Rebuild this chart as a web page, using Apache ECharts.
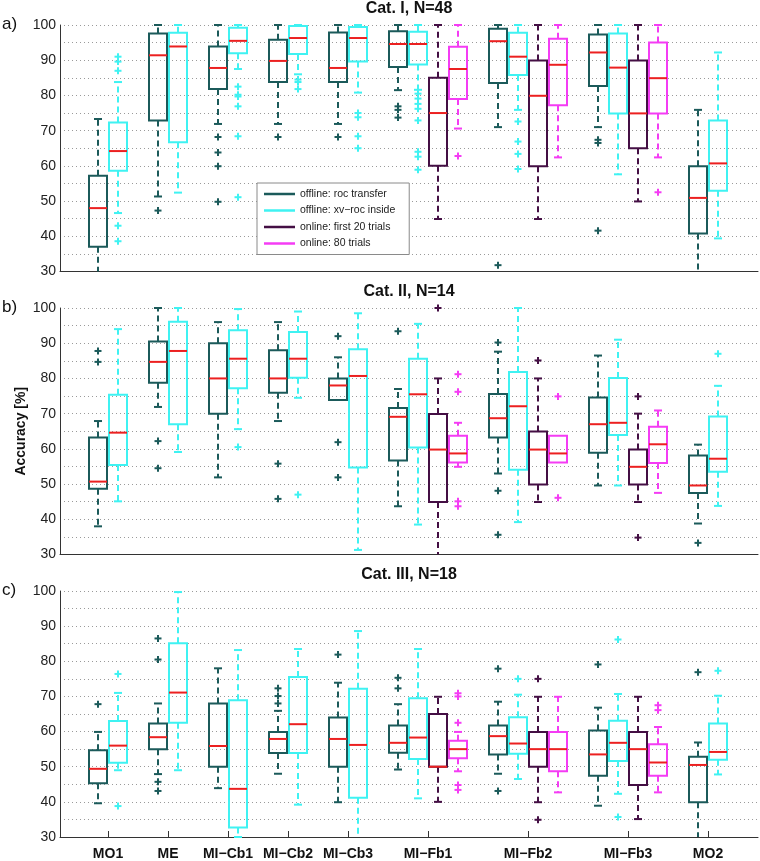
<!DOCTYPE html>
<html><head><meta charset="utf-8">
<script src="https://cdn.jsdelivr.net/npm/echarts@6/dist/echarts.min.js"></script>
<style>html,body{margin:0;padding:0;background:#fff}#chart{width:760px;height:861px}</style>
</head><body><div id="chart"></div>
<script>
// ---------------- DATA ----------------
const categories = ['MO1', 'ME', 'MI\u2212Cb1', 'MI\u2212Cb2', 'MI\u2212Cb3', 'MI\u2212Fb1', 'MI\u2212Fb2', 'MI\u2212Fb3', 'MO2'];
const seriesNames = ['offline: roc transfer', 'offline: xv\u2212roc inside', 'online: first 20 trials', 'online: 80 trials'];
const panelTitles = ['Cat. I, N=48', 'Cat. II, N=14', 'Cat. III, N=18'];
const panelLetters = ['a)', 'b)', 'c)'];
const yTickValues = [30, 40, 50, 60, 70, 80, 90, 100];
const yAxisName = 'Accuracy [%]';

// box stats: [lower whisker, q1, median, q3, upper whisker]
// ---- Cat. I ----
const catI_rocTransfer = [
  [25, 37, 48, 57.2, 73.3], [51.3, 72.9, 91.4, 97.6, 100], [71.9, 81.8, 87.8, 93.9, 100],
  [71.9, 83.8, 89.8, 95.8, 100], [71.9, 83.8, 87.8, 97.9, 100], [81.5, 88.1, 94.6, 98.2, 100],
  [71.0, 83.5, 95.4, 98.9, 100], [71.0, 82.7, 92.2, 97.3, 100], [25, 40.8, 50.9, 59.9, 75.9]];
const catI_rocTransfer_out = [[], [47.3], [68.2, 63.8, 59.9, 49.8], [68.2], [68.2], [76.9, 75.9, 73.7], [31.8], [67.4, 66.5, 41.6], []];
const catI_xvRocInside = [
  [46.6, 58.6, 64.2, 72.3, 83.8], [52.4, 66.7, 93.9, 97.8, 100], [87.5, 92.0, 95.5, 99.2, 100],
  [86.0, 91.8, 96.3, 99.7, 100], [80.8, 89.6, 96.3, 99.4, 100], [81.6, 88.8, 94.6, 98.1, 100],
  [75.9, 85.8, 91.0, 97.8, 100], [57.6, 74.9, 87.9, 97.6, 100], [39.4, 52.9, 60.7, 72.9, 92.2]];
const catI_xvRocInside_out = [[91, 89.6, 87, 43, 38.6], [], [82.5, 80.2, 79.7, 76.9, 68.4, 51.1], [84.5, 83.8, 81.8], [75.0, 73.8, 68.4, 65.0],
  [80.5, 79.1, 77.6, 76.2, 72.9, 64.0, 62.6, 58.9], [72.6, 66.9, 63.4, 59.1], [], []];
const catI_first20 = [null, null, null, null, null, [44.9, 60.0, 75.0, 85.0, 100], [44.9, 59.9, 79.9, 89.9, 100], [49.9, 65.0, 74.9, 89.9, 100], null];
const catI_first20_out = [[], [], [], [], [], [], [], [], []];
const catI_online80 = [null, null, null, null, null, [70.6, 79.0, 87.5, 93.8, 100], [62.4, 77.2, 88.7, 96.1, 100], [62.4, 74.9, 84.9, 95.0, 100], null];
const catI_online80_out = [[], [], [], [], [], [62.8], [], [52.5], []];

// ---- Cat. II ----
const catII_rocTransfer = [
  [38.0, 48.7, 50.7, 63.2, 67.9], [71.9, 78.8, 84.7, 90.5, 100], [51.9, 70.0, 80.0, 90.0, 96.0],
  [67.9, 75.9, 80.0, 88.0, 96.0], [73.9, 73.9, 78.0, 80.0, 86.0], [43.7, 56.7, 69.1, 71.6, 77.0],
  [53.0, 63.2, 68.7, 75.6, 87.6], [49.6, 58.9, 67.0, 74.6, 86.5], [38.8, 47.5, 49.6, 58.1, 61.2]];
const catII_rocTransfer_out = [[87.8, 84.7], [62.2, 54.5], [], [55.8, 45.8], [92.0, 61.9, 51.9], [93.4], [90.2, 48.1, 35.6], [], [33.3]];
const catII_xvRocInside = [
  [45.1, 55.4, 64.6, 75.4, 94.0], [59.1, 67.0, 87.8, 96.1, 100], [65.6, 77.2, 85.6, 93.7, 99.7],
  [74.5, 80.2, 85.6, 93.2, 99.0], [31.3, 54.7, 80.7, 88.3, 98.5], [38.5, 60.4, 75.5, 85.6, 95.5],
  [39.2, 54.1, 72.1, 81.8, 100], [49.6, 63.9, 67.4, 80.1, 91.0], [43.8, 53.5, 57.2, 69.2, 77.9]];
const catII_xvRocInside_out = [[], [], [60.5], [47.0], [], [], [], [], [87.0]];
const catII_first20 = [null, null, null, null, null, [25, 44.9, 59.8, 69.9, 80.0], [44.9, 49.9, 59.8, 64.9, 80.0], [44.9, 49.9, 54.9, 59.8, 70.0], null];
const catII_first20_out = [[], [], [], [], [], [100], [85.1], [74.9, 34.8], []];
const catII_online80 = [null, null, null, null, null, [54.9, 56.1, 58.7, 63.7, 67.4], [56.1, 56.1, 58.7, 63.7, 63.7], [47.5, 56.0, 61.3, 66.3, 70.9], null];
const catII_online80_out = [[], [], [], [], [], [81.2, 76.2, 45.1, 43.7], [74.9, 46.1], [], []];

// ---- Cat. III ----
const catIII_rocTransfer = [
  [39.6, 45.3, 49.4, 54.7, 59.9], [47.9, 55.0, 58.4, 62.3, 68.0], [43.9, 50.0, 55.9, 68.0, 78.0],
  [48.0, 53.9, 57.9, 59.9, 65.9], [39.9, 50.0, 57.9, 64.0, 73.9], [49.2, 54.0, 56.8, 61.7, 67.8],
  [48.0, 53.5, 58.7, 61.7, 68.5], [38.9, 47.4, 53.5, 60.3, 66.8], [25, 39.9, 50.5, 52.8, 56.9]];
const catIII_rocTransfer_out = [[67.8], [86.5, 80.5, 45.7, 43.1], [], [72.3, 70.1, 68.0], [81.9], [75.3, 72.3], [77.9, 43.1], [79.1], [76.9]];
const catIII_xvRocInside = [
  [49.0, 51.1, 56.0, 63.0, 71.0], [49.0, 62.5, 71.1, 85.1, 99.7], [30.0, 32.7, 43.7, 68.9, 83.2],
  [39.2, 53.9, 62.1, 75.5, 83.5], [25, 41.2, 56.2, 72.2, 88.6], [41.0, 52.2, 58.3, 69.5, 83.5],
  [46.5, 53.7, 56.6, 64.1, 70.5], [42.3, 51.6, 56.8, 63.1, 70.7], [47.8, 52.0, 54.2, 62.3, 70.2]];
const catIII_xvRocInside_out = [[76.4, 38.8], [], [], [], [], [], [75.0], [86.2, 35.7], [77.3]];
const catIII_first20 = [null, null, null, null, null, [40.0, 50.0, 50.0, 65.0, 69.9], [39.9, 50.0, 55.0, 59.9, 69.9], [35.1, 44.8, 55.0, 59.9, 69.9], null];
const catIII_first20_out = [[], [], [], [], [], [], [75.0, 34.9], [], []];
const catIII_online80 = [null, null, null, null, null, [48.7, 52.4, 55.0, 57.4, 59.9], [42.7, 48.7, 55.0, 59.9, 69.9], [42.7, 47.4, 51.2, 56.4, 61.3], null];
const catIII_online80_out = [[], [], [], [], [], [70.9, 70.0, 62.5, 44.8, 43.4], [], [67.5, 66.1], []];

// ---------------- STYLE / LAYOUT ----------------
const seriesColors = ['#1b5a5a', '#3ff2f2', '#440f44', '#f43cf4'];
const medianColor = '#ec2020';
const FONT = "'Liberation Sans', Arial, Helvetica, sans-serif";
const Y_MIN = 30, Y_MAX = 100;
const panelTops = [25, 308, 591];
const panelHeight = 246.5;
const gridLeft = 60, gridRight = 2;

const panels = [
  { stats: [catI_rocTransfer, catI_xvRocInside, catI_first20, catI_online80],
    outs: [catI_rocTransfer_out, catI_xvRocInside_out, catI_first20_out, catI_online80_out] },
  { stats: [catII_rocTransfer, catII_xvRocInside, catII_first20, catII_online80],
    outs: [catII_rocTransfer_out, catII_xvRocInside_out, catII_first20_out, catII_online80_out] },
  { stats: [catIII_rocTransfer, catIII_xvRocInside, catIII_first20, catIII_online80],
    outs: [catIII_rocTransfer_out, catIII_xvRocInside_out, catIII_first20_out, catIII_online80_out] }
];

// slot layout: boxes side by side, one empty slot between groups
const slotOf = [];
const groupCenters = [];
(function () {
  let start = 0;
  for (let s = 0; s < 4; s++) slotOf.push([]);
  categories.forEach((c, ci) => {
    let k = 0;
    for (let s = 0; s < 4; s++) {
      if (panels[0].stats[s][ci]) { slotOf[s][ci] = start + k; k++; }
    }
    groupCenters.push(start + (k - 1) / 2);
    start += k + 1;
  });
})();
const X_MIN = -1.9, X_MAX = 33;

function makeRender(p, s) {
  return function (params, api) {
    const x = api.value(0), lw = api.value(1), q1 = api.value(2), med = api.value(3),
      q3 = api.value(4), uw = api.value(5), ci = api.value(6);
    const col = seriesColors[s];
    const slotW = api.size([1, 0])[0];
    const bw = slotW * 0.9, cw = slotW * 0.4;
    const cx = Math.round(api.coord([x, 50])[0]);
    const Y = v => api.coord([x, Math.max(Y_MIN, Math.min(Y_MAX, v))])[1];
    const dashed = { stroke: col, lineWidth: 2, lineDash: [6, 4], fill: null };
    const solid = { stroke: col, lineWidth: 2, fill: null };
    const ch = [];
    if (uw > q3) {
      ch.push({ type: 'line', shape: { x1: cx, y1: Y(q3), x2: cx, y2: Y(uw) }, style: dashed });
      if (uw <= Y_MAX) ch.push({ type: 'line', shape: { x1: cx - cw / 2, y1: Y(uw), x2: cx + cw / 2, y2: Y(uw) }, style: solid });
    }
    if (lw < q1) {
      ch.push({ type: 'line', shape: { x1: cx, y1: Y(q1), x2: cx, y2: Y(lw) }, style: dashed });
      if (lw >= Y_MIN) ch.push({ type: 'line', shape: { x1: cx - cw / 2, y1: Y(lw), x2: cx + cw / 2, y2: Y(lw) }, style: solid });
    }
    ch.push({ type: 'rect', shape: { x: cx - bw / 2, y: Y(q3), width: bw, height: Y(q1) - Y(q3) }, style: solid });
    ch.push({ type: 'line', shape: { x1: cx - bw / 2, y1: Y(med), x2: cx + bw / 2, y2: Y(med) }, style: { stroke: medianColor, lineWidth: 2 } });
    const outs = panels[p].outs[s][ci] || [];
    outs.forEach(o => {
      const yo = api.coord([x, o])[1];
      ch.push({ type: 'line', shape: { x1: cx - 3.5, y1: yo, x2: cx + 3.5, y2: yo }, style: solid });
      ch.push({ type: 'line', shape: { x1: cx, y1: yo - 3.5, x2: cx, y2: yo + 3.5 }, style: solid });
    });
    return { type: 'group', children: ch };
  };
}

const grids = [], xAxes = [], yAxes = [], series = [], graphics = [];
panels.forEach((pn, p) => {
  grids.push({ left: gridLeft, right: gridRight, top: panelTops[p], height: panelHeight });
  const last = p === panels.length - 1;
  xAxes.push({
    gridIndex: p, type: 'value', min: X_MIN, max: X_MAX,
    axisLine: { show: true, onZero: false, lineStyle: { color: '#333', width: 1 } },
    splitLine: { show: false },
    axisTick: { show: last, inside: true, length: 6, customValues: groupCenters, lineStyle: { color: '#333' } },
    axisLabel: {
      show: last, customValues: groupCenters, margin: 10,
      fontFamily: FONT, fontSize: 14, fontWeight: 'bold', color: '#111',
      formatter: v => { const i = groupCenters.findIndex(g => Math.abs(g - v) < 1e-6); return i >= 0 ? categories[i] : ''; }
    }
  });
  yAxes.push({
    gridIndex: p, type: 'value', min: Y_MIN, max: Y_MAX, interval: 10,
    axisLine: { show: true, onZero: false, lineStyle: { color: '#333', width: 1 } },
    axisTick: { show: false },
    axisLabel: { fontFamily: FONT, fontSize: 14, color: '#222', margin: 4,
      customValues: yTickValues },
    splitLine: { show: true, lineStyle: { color: '#9a9a9a', width: 1, type: [1, 3] } },
    minorTick: { show: false, splitNumber: 2 },
    minorSplitLine: { show: true, lineStyle: { color: '#9a9a9a', width: 1, type: [1, 3] } }
  });
  for (let s = 0; s < 4; s++) {
    const data = [];
    pn.stats[s].forEach((st, ci) => {
      if (st) data.push([slotOf[s][ci], st[0], st[1], st[2], st[3], st[4], ci]);
    });
    if (!data.length) continue;
    series.push({
      type: 'custom', name: seriesNames[s], xAxisIndex: p, yAxisIndex: p,
      itemStyle: { color: seriesColors[s] }, clip: false, silent: true,
      encode: { x: 0, y: [1, 2, 3, 4, 5] },
      data: data, renderItem: makeRender(p, s)
    });
  }
  graphics.push({ type: 'text', x: (gridLeft + 760 - gridRight) / 2, y: panelTops[p] - 16,
    style: { text: panelTitles[p], font: 'bold 16px ' + FONT, fill: '#111', textAlign: 'center', textVerticalAlign: 'middle' } });
  graphics.push({ type: 'text', x: 2, y: panelTops[p] - 1,
    style: { text: panelLetters[p], font: '17px ' + FONT, fill: '#111', textAlign: 'left', textVerticalAlign: 'middle' } });
});
graphics.push({ type: 'text', x: 21, y: panelTops[1] + panelHeight / 2, rotation: Math.PI / 2,
  style: { text: yAxisName, font: 'bold 14px ' + FONT, fill: '#111', textAlign: 'center', textVerticalAlign: 'middle' } });

const chart = echarts.init(document.getElementById('chart'), null, { renderer: 'canvas' });
chart.setOption({
  animation: false,
  backgroundColor: '#fff',
  grid: grids, xAxis: xAxes, yAxis: yAxes, series: series,
  legend: {
    data: seriesNames, orient: 'vertical', left: 257, top: 183,
    icon: 'rect', itemWidth: 31, itemHeight: 2.5, itemGap: 4.5,
    padding: [5, 14, 5, 7], backgroundColor: '#fff', borderColor: '#8a8a8a', borderWidth: 1,
    textStyle: { fontFamily: FONT, fontSize: 10.5, color: '#222', lineHeight: 12 },
    selectedMode: false
  },
  graphic: graphics
});
</script></body></html>
